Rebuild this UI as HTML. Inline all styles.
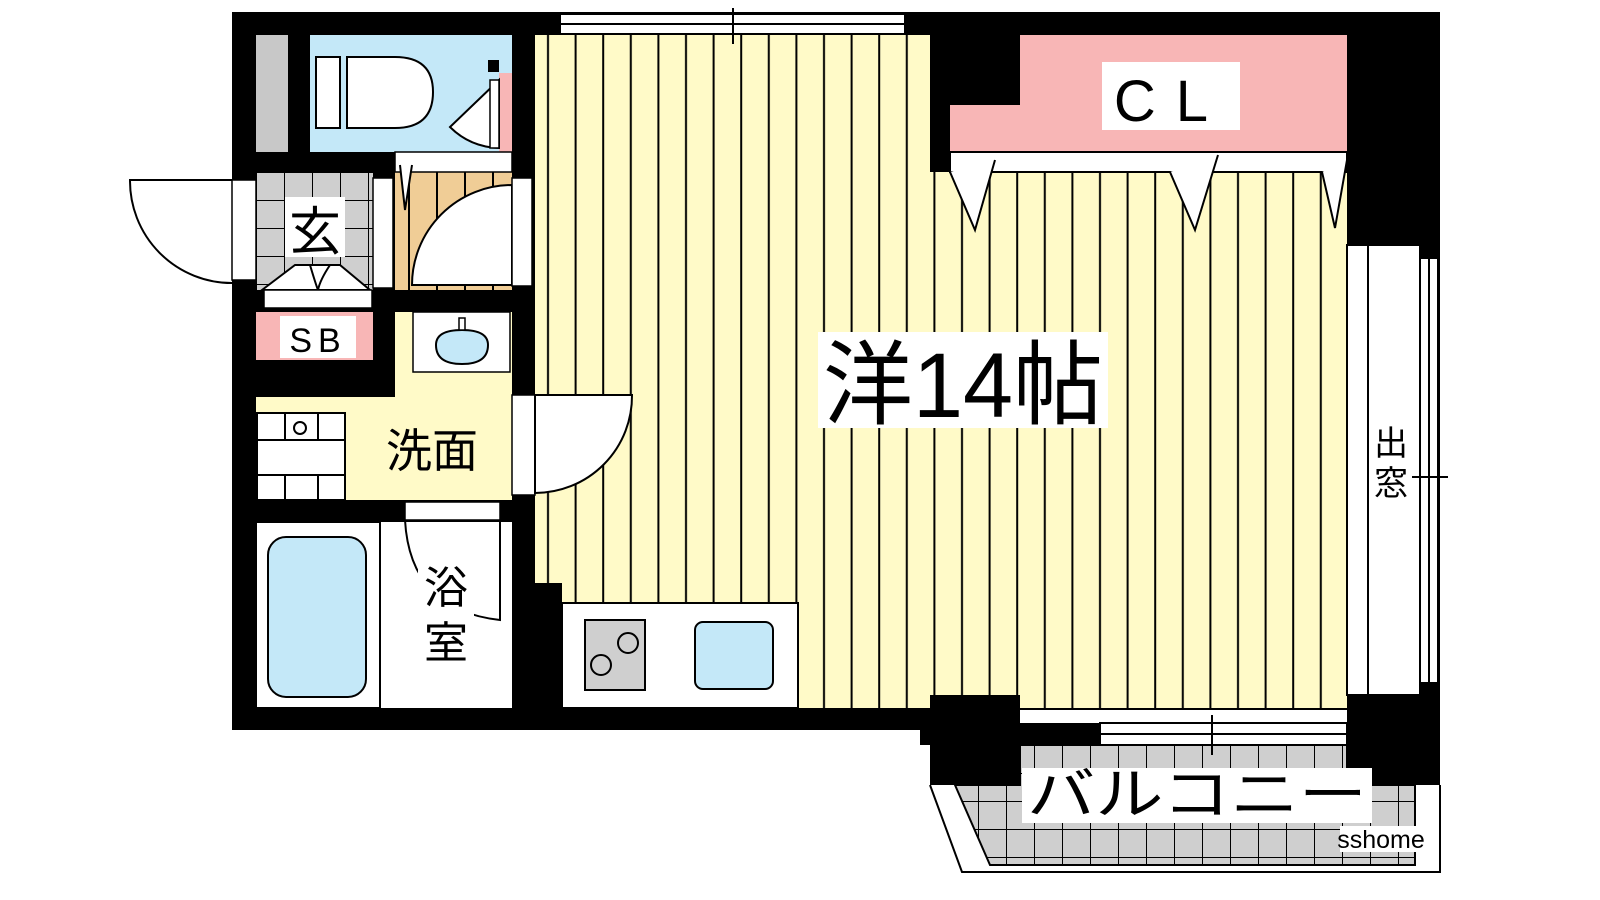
<!DOCTYPE html>
<html><head><meta charset="utf-8"><style>
html,body{margin:0;padding:0;background:#fff;width:1600px;height:900px;overflow:hidden}
text{font-family:"Liberation Sans","Noto Sans CJK JP",sans-serif}
</style></head><body>
<svg width="1600" height="900" viewBox="0 0 1600 900" xmlns="http://www.w3.org/2000/svg">
<defs>
<pattern id="st" x="535" y="0" width="27.6" height="10" patternUnits="userSpaceOnUse">
<rect width="27.6" height="10" fill="#fffac8"/><line x1="13" y1="0" x2="13" y2="10" stroke="#000" stroke-width="2"/></pattern>
<pattern id="tan" x="395" y="0" width="28" height="10" patternUnits="userSpaceOnUse">
<rect width="28" height="10" fill="#f0cd96"/><line x1="14" y1="0" x2="14" y2="10" stroke="#000" stroke-width="2"/></pattern>
<pattern id="tile" x="256" y="172" width="28" height="28" patternUnits="userSpaceOnUse">
<rect width="28" height="28" fill="#cfcfcf"/><path d="M0 0H28M0 0V28" stroke="#000" stroke-width="2" fill="none"/></pattern>
<pattern id="btile" x="950" y="745" width="28" height="28" patternUnits="userSpaceOnUse">
<rect width="28" height="28" fill="#cfcfcf"/><path d="M0 0H28M0 0V28" stroke="#000" stroke-width="2" fill="none"/></pattern>
</defs>
<!-- outer black -->
<rect x="232" y="12" width="1208" height="718" fill="#000"/>
<rect x="1020" y="710" width="420" height="20" fill="#fff"/>
<rect x="930" y="695" width="90" height="90" fill="#000"/>
<rect x="1347" y="680" width="93" height="105" fill="#000"/>
<rect x="920" y="723" width="180" height="22" fill="#000"/>
<!-- balcony -->
<polygon points="955,785 1020,785 1020,745 1347,745 1347,785 1415,785 1415,865 990,865" fill="url(#btile)" stroke="#000" stroke-width="2"/>
<polyline points="930,785 962,872 1440,872 1440,785" fill="none" stroke="#000" stroke-width="2"/>
<rect x="1100" y="723" width="247" height="22" fill="#fff" stroke="#000" stroke-width="2"/>
<line x1="1100" y1="734" x2="1347" y2="734" stroke="#000" stroke-width="2"/>
<line x1="1212" y1="715" x2="1212" y2="755" stroke="#000" stroke-width="2"/>
<!-- main room -->
<rect x="535" y="35" width="812" height="673" fill="url(#st)"/>
<rect x="512" y="583" width="50" height="125" fill="#000"/>
<rect x="930" y="35" width="417" height="137" fill="#000"/>
<polygon points="1020,35 1347,35 1347,152 950,152 950,105 1020,105" fill="#f8b6b6"/>
<rect x="950" y="152" width="397" height="20" fill="#fff" stroke="#000" stroke-width="2"/>
<path d="M950 172 L975 230 L995 160 M1170 172 L1195 230 L1218 155 M1322 172 L1335 228 L1347 160" fill="#fff" stroke="#000" stroke-width="2"/>
<rect x="930" y="695" width="90" height="13" fill="#000"/>
<!-- top window -->
<rect x="560" y="14" width="345" height="20" fill="#fff" stroke="#000" stroke-width="2"/>
<line x1="560" y1="24" x2="905" y2="24" stroke="#000" stroke-width="2"/>
<line x1="733" y1="8" x2="733" y2="44" stroke="#000" stroke-width="2"/>
<!-- right bay window -->
<rect x="1347" y="245" width="73" height="450" fill="#fff" stroke="#000" stroke-width="2"/>
<rect x="1420" y="258" width="18" height="425" fill="#fff" stroke="#000" stroke-width="2"/>
<line x1="1429" y1="258" x2="1429" y2="683" stroke="#000" stroke-width="2"/>
<line x1="1368" y1="245" x2="1368" y2="695" stroke="#000" stroke-width="2"/>
<line x1="1410" y1="477" x2="1448" y2="477" stroke="#000" stroke-width="2"/>
<!-- toilet -->
<rect x="256" y="35" width="32" height="117" fill="#c8c8c8"/>
<rect x="310" y="35" width="202" height="117" fill="#c4e8f8"/>
<rect x="499" y="73" width="13" height="79" fill="#f8b6b6"/>
<rect x="488" y="60" width="11" height="12" fill="#000"/>
<path d="M316 57 H340 V128 H316Z M347 57 H395 Q433 57 433 92 Q433 128 395 128 H347Z" fill="#fff" stroke="#000" stroke-width="2"/>
<path d="M499 80 L450 127 Q470 147 499 148Z" fill="#fff" stroke="#000" stroke-width="2"/>
<rect x="490" y="80" width="9" height="68" fill="#fff" stroke="#000" stroke-width="1.5"/>
<!-- entrance -->
<rect x="256" y="172" width="117" height="118" fill="url(#tile)"/>
<rect x="232" y="180" width="24" height="100" fill="#fff" stroke="#000" stroke-width="1.5"/>
<path d="M232 180 H130 A102 102 0 0 0 232 283" fill="none" stroke="#000" stroke-width="2"/>
<rect x="285" y="197" width="60" height="60" fill="#fff"/>
<text x="315" y="250" font-size="52" text-anchor="middle">玄</text>
<path d="M262 290 L295 265 H340 L370 290Z" fill="#fff" stroke="#000" stroke-width="2"/>
<path d="M310 265 Q316 285 318 290 Q320 280 330 265" fill="none" stroke="#000" stroke-width="2"/>
<rect x="264" y="290" width="108" height="18" fill="#fff" stroke="#000" stroke-width="1.5"/>
<rect x="373" y="178" width="20" height="110" fill="#fff" stroke="#000" stroke-width="1.5"/>
<!-- corridor -->
<rect x="395" y="172" width="117" height="118" fill="url(#tan)"/>
<rect x="395" y="152" width="117" height="20" fill="#fff" stroke="#000" stroke-width="1.5"/>
<path d="M400 165 L405 210 L412 165" fill="#fff" stroke="#000" stroke-width="2"/>
<path d="M512 185 A100 100 0 0 0 412 285 H512Z" fill="#fff" stroke="#000" stroke-width="2"/>
<rect x="512" y="178" width="20" height="108" fill="#fff" stroke="#000" stroke-width="1.5"/>
<!-- SB -->
<rect x="256" y="312" width="117" height="48" fill="#f8b6b6"/>
<rect x="280" y="316" width="76" height="42" fill="#fff"/>
<text x="318" y="352" font-size="34" text-anchor="middle" letter-spacing="6">SB</text>
<!-- washroom -->
<rect x="395" y="312" width="117" height="188" fill="#fffac8"/>
<rect x="256" y="397" width="140" height="103" fill="#fffac8"/>
<rect x="413" y="312" width="97" height="60" fill="#fff" stroke="#000" stroke-width="1.5"/>
<path d="M436 345 Q436 330 462 330 Q488 330 488 345 Q488 364 462 364 Q436 364 436 345Z" fill="#c4e8f8" stroke="#000" stroke-width="2"/>
<rect x="459" y="318" width="6" height="12" fill="#fff" stroke="#000" stroke-width="1.5"/>
<rect x="257" y="413" width="88" height="87" fill="#fff" stroke="#000" stroke-width="2"/>
<path d="M257 440 H345 M257 475 H345 M285 413 V440 M318 413 V440 M285 475 V500 M318 475 V500" stroke="#000" stroke-width="2"/>
<circle cx="300" cy="428" r="6" fill="#fff" stroke="#000" stroke-width="2"/>
<rect x="372" y="420" width="116" height="56" fill="#fffac8"/>
<text x="432" y="467" font-size="46" text-anchor="middle">洗面</text>
<!-- door to room -->
<rect x="512" y="395" width="23" height="100" fill="#fff" stroke="#000" stroke-width="1.5"/>
<path d="M535 395 H632 A97 97 0 0 1 535 493Z" fill="#fff" stroke="#000" stroke-width="2"/>
<!-- bath -->
<rect x="256" y="522" width="256" height="186" fill="#fff"/>
<rect x="256" y="522" width="124" height="186" fill="#fff" stroke="#000" stroke-width="2"/>
<rect x="268" y="537" width="98" height="160" rx="18" fill="#c4e8f8" stroke="#000" stroke-width="2"/>
<rect x="405" y="502" width="95" height="18" fill="#fff" stroke="#000" stroke-width="1.5"/>
<path d="M405 520 Q410 610 500 620 V520" fill="none" stroke="#000" stroke-width="2"/>
<rect x="418" y="560" width="56" height="100" fill="#fff"/>
<text x="446" y="603" font-size="44" text-anchor="middle">浴</text>
<text x="446" y="658" font-size="44" text-anchor="middle">室</text>
<!-- kitchen -->
<rect x="562" y="603" width="236" height="105" fill="#fff" stroke="#000" stroke-width="2"/>
<rect x="585" y="620" width="60" height="70" fill="#cfcfcf" stroke="#000" stroke-width="2"/>
<circle cx="628" cy="643" r="10" fill="none" stroke="#000" stroke-width="2"/>
<circle cx="601" cy="665" r="10" fill="none" stroke="#000" stroke-width="2"/>
<rect x="695" y="622" width="78" height="67" rx="8" fill="#c4e8f8" stroke="#000" stroke-width="2"/>
<!-- labels -->
<rect x="1102" y="62" width="138" height="68" fill="#fff"/>
<text x="1171" y="121" font-size="58" text-anchor="middle" letter-spacing="20">CL</text>
<rect x="818" y="332" width="290" height="96" fill="#fff"/>
<text x="963" y="417" font-size="92" text-anchor="middle" textLength="280" lengthAdjust="spacingAndGlyphs">洋14帖</text>
<rect x="1372" y="420" width="40" height="82" fill="#fff"/>
<text x="1391" y="455" font-size="34" text-anchor="middle">出</text>
<text x="1391" y="495" font-size="34" text-anchor="middle">窓</text>
<rect x="1022" y="768" width="350" height="55" fill="#fff"/>
<text x="1197" y="814" font-size="56" text-anchor="middle" textLength="340" lengthAdjust="spacingAndGlyphs">バルコニー</text>
<rect x="1340" y="826" width="85" height="26" fill="#fff"/>
<text x="1381" y="848" font-size="25" text-anchor="middle">sshome</text>
</svg>
</body></html>
